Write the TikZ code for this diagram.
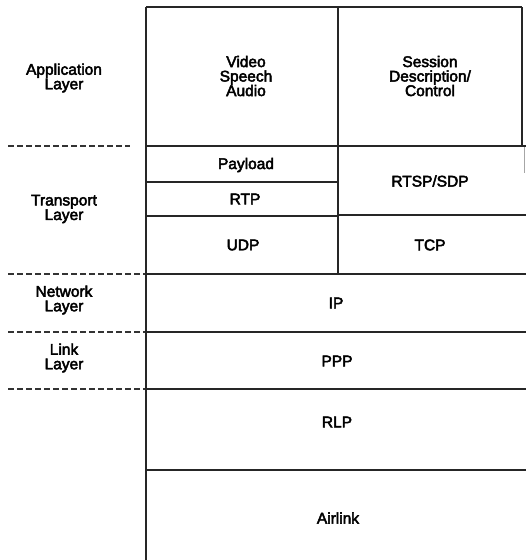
\documentclass[tikz,border=0pt]{standalone}
\usepackage{fontspec}
\setmainfont{Liberation Sans}
\newfontfamily\lbfont[FakeBold=3]{Liberation Sans}
\begin{document}
\begin{tikzpicture}[x=1pt,y=-1pt,
  ln/.style={line width=1.5pt,black!85},
  dsh/.style={line width=1.2pt,black!80,dash pattern=on 5.5pt off 3.5pt},
  lbl/.style={align=center,inner sep=0pt,font=\lbfont\fontsize{15.5}{14.5}\selectfont},
]
\useasboundingbox (0,0) rectangle (526,560);
% box lines
\draw[ln] (146,7) -- (522,7);
\draw[ln] (522,7) -- (522,146);
\draw[line width=0.5pt,black!35] (524,146) -- (524,173);
\draw[ln] (146,7) -- (146,560);
\draw[ln] (338,7) -- (338,274);
\draw[ln] (146,146) -- (526,146);
\draw[ln] (146,182) -- (338,182);
\draw[ln] (146,216) -- (338,216);
\draw[ln] (338,215) -- (526,215);
\draw[ln] (146,274) -- (526,274);
\draw[ln] (146,332) -- (526,332);
\draw[ln] (146,389) -- (526,389);
\draw[ln] (146,470) -- (526,470);
% dashed layer separators
\draw[dsh] (8,146) -- (130,146);
\draw[dsh] (8,274) -- (145,274);
\draw[dsh] (8,332) -- (145,332);
\draw[dsh] (8,389) -- (145,389);
% layer labels
\node[lbl] (app) at (64,78) {Application\\Layer};
\node[lbl] (trn) at (64,209) {Transport\\Layer};
\node[lbl] (net) at (64,300) {Network\\Layer};
\node[lbl] (lnk) at (64,358) {Link\\Layer};
% protocol labels
\node[lbl] (vsa) at (246,76) {Video\\Speech\\Audio};
\node[lbl] (sdc) at (430,76) {Session\\Description/\\Control};
\node[lbl] (pay) at (246,165) {Payload};
\node[lbl] (rtp) at (245,199) {RTP};
\node[lbl] (udp) at (243,245) {UDP};
\node[lbl] (rtsp) at (430,181) {RTSP/SDP};
\node[lbl] (tcp) at (430,245) {TCP};
\node[lbl] (ip) at (336,303) {IP};
\node[lbl] (ppp) at (337,361) {PPP};
\node[lbl] (rlp) at (337,422) {RLP};
\node[lbl] (air) at (338,518) {Airlink};
\end{tikzpicture}
\end{document}
